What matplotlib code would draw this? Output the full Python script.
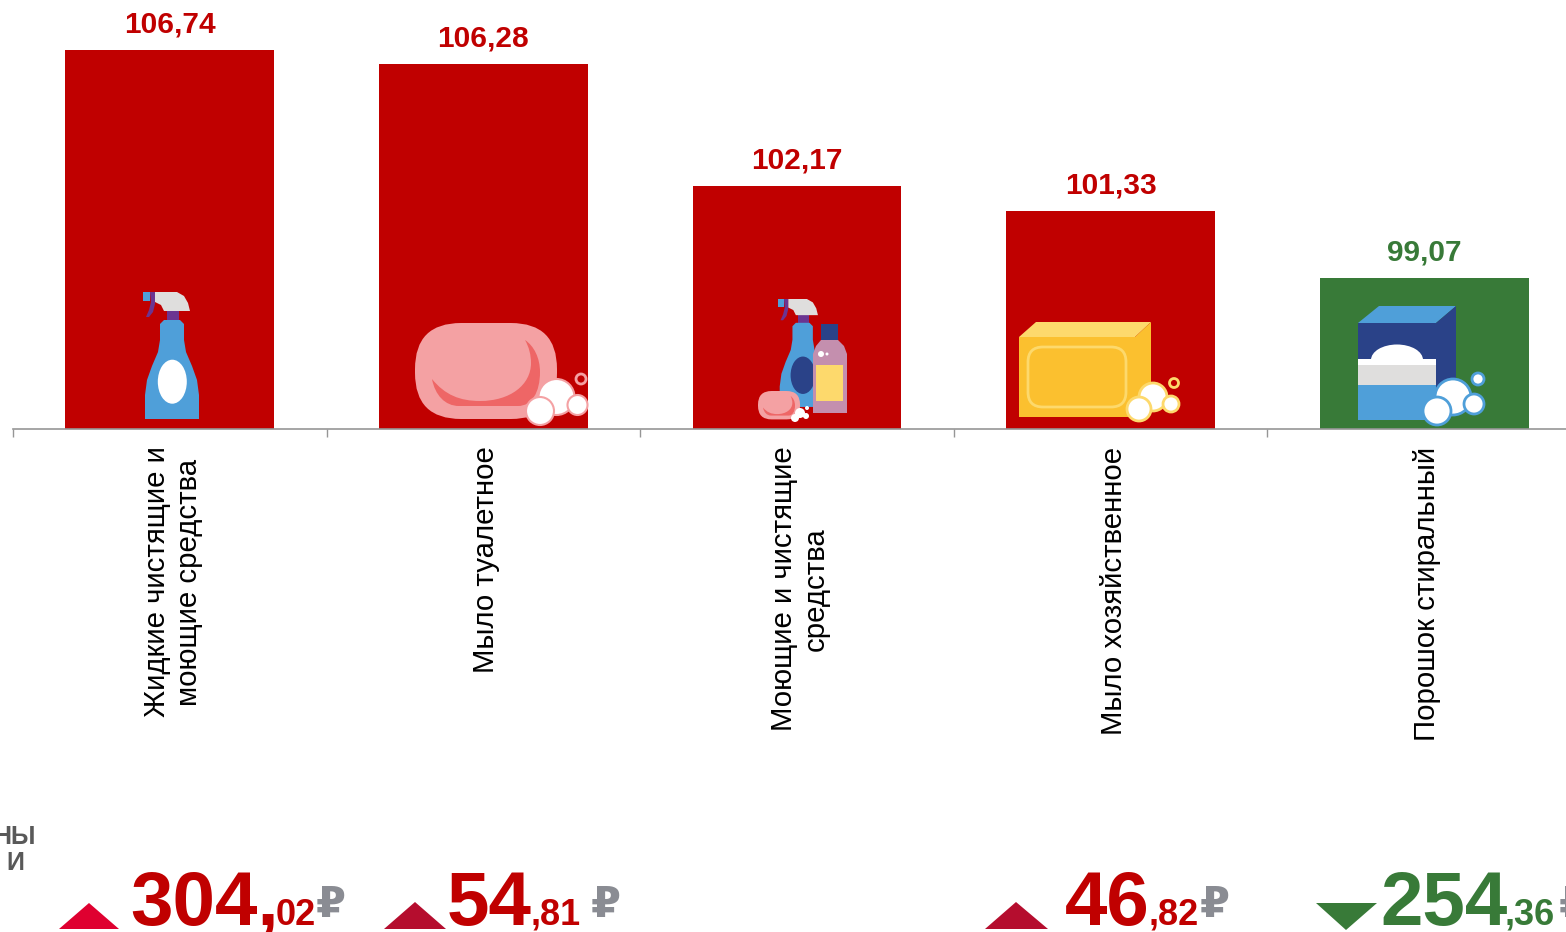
import matplotlib
matplotlib.use("Agg")
import matplotlib.pyplot as plt
import numpy as np
from matplotlib.patches import Circle, Ellipse, FancyBboxPatch, PathPatch, Polygon, Rectangle
from matplotlib.path import Path
from matplotlib.transforms import ScaledTranslation

plt.rcParams['font.family'] = ['Liberation Sans', 'DejaVu Sans']

categories = ["Жидкие чистящие и\nмоющие средства", "Мыло туалетное", "Моющие и чистящие\nсредства", "Мыло хозяйственное", "Порошок стиральный"]
values = [106.74, 106.28, 102.17, 101.33, 99.07]
value_labels = ["106,74", "106,28", "102,17", "101,33", "99,07"]
price_whole = ["304,", "54", "46", "254"]
price_frac = ["02", ",81", ",82", ",36"]

RED = "#C00000"
GREEN = "#387A38"
BLUE = "#4F9FD9"
NAVY = "#2A4288"
PURPLE = "#6B3591"
PINK = "#F4A1A3"
DARKPINK = "#EE6666"
YELLOW = "#FBC02F"
LIGHTYELLOW = "#FDD96C"
GRAY = "#DFDEDD"


def poly(ax, pts, color):
    ax.add_patch(Polygon(pts, closed=True, fc=color, ec="none"))


def bubbles(ax, items, edge, lw=1.5):
    for x, y, r in items:
        ax.add_patch(Circle((x, y), r, fc="white", ec=edge, lw=lw))


def spray(ax, ox, oy, s, label_color):
    t = lambda pts: [(ox + (x - 143) * s, oy + (y - 292) * s) for x, y in pts]
    poly(ax, t([(167, 311), (179, 311), (179, 321), (167, 321)]), PURPLE)
    poly(ax, t([(164, 320), (180, 320), (184, 324), (184, 340), (186, 352), (192, 366), (197, 380),
                (199, 395), (199, 419), (145, 419), (145, 395), (147, 380), (152, 366), (158, 352),
                (160, 340), (160, 324)]), BLUE)
    poly(ax, t([(155, 292), (177, 292), (184, 296), (188, 303), (190, 311), (164, 311), (161, 305), (155, 302)]), GRAY)
    poly(ax, t([(143, 292), (150, 292), (150, 301), (143, 301)]), BLUE)
    poly(ax, t([(150, 292), (155, 292), (155, 304), (153, 312), (149, 317), (146, 317), (149, 310), (151, 302)]), PURPLE)
    ax.add_patch(Ellipse((ox + 29.3 * s, oy + 89.7 * s), 29 * s, 44 * s, fc=label_color, ec="none"))


def soap(ax, ox, oy, s):
    t = lambda pts: [(ox + (x - 415) * s, oy + (y - 323) * s) for x, y in pts]
    ax.add_patch(FancyBboxPatch((ox + 46 * s, oy + 46 * s), 50 * s, 4 * s,
                                boxstyle="round,pad=%f,rounding_size=%f" % (46 * s, 46 * s), fc=PINK, ec="none"))
    verts = [(525, 340), (534, 346), (540, 358), (540, 372), (540, 392), (532, 406), (518, 406), (459, 406),
             (445, 406), (435, 395), (432, 379), (445, 395), (460, 401), (480, 401), (510, 401), (531, 385),
             (531, 363), (531, 355), (529, 347), (525, 340), (525, 340)]
    codes = [Path.MOVETO] + [Path.CURVE4] * 6 + [Path.LINETO] + [Path.CURVE4] * 12 + [Path.CLOSEPOLY]
    ax.add_patch(PathPatch(Path(t(verts), codes), fc=DARKPINK, ec="none"))


def drawIcons(ax):
    # бутылка с распылителем
    spray(ax, 143, 292, 1, "white")

    # мыло туалетное
    soap(ax, 415, 323, 1)
    bubbles(ax, [(556.5, 397, 18), (540, 411, 14), (577.5, 405, 10)], PINK)
    ax.add_patch(Circle((581, 379), 5, fc="none", ec=PINK, lw=2))

    # набор средств
    spray(ax, 778, 299, 0.85, NAVY)
    poly(ax, [(821, 324), (838, 324), (838, 341), (821, 341)], NAVY)
    poly(ax, [(821, 340), (838, 340), (844, 346), (847, 354), (847, 413), (813, 413), (813, 354), (816, 346)], "#C48FAE")
    poly(ax, [(816, 365), (843, 365), (843, 401), (816, 401)], LIGHTYELLOW)
    bubbles(ax, [(821, 354, 3), (827, 354, 1.5)], "white", 0)
    soap(ax, 758, 391, 0.296)
    bubbles(ax, [(800, 413, 5), (795, 418, 4), (806, 416, 3), (807, 408, 2)], "white", 0)

    # мыло хозяйственное
    poly(ax, [(1019, 337), (1036, 322), (1151, 322), (1135, 337)], LIGHTYELLOW)
    poly(ax, [(1135, 337), (1151, 322), (1151, 400), (1135, 417)], YELLOW)
    ax.add_patch(Rectangle((1019, 337), 116, 80, fc=YELLOW, ec="none"))
    ax.add_patch(FancyBboxPatch((1043, 362), 68, 30, boxstyle="round,pad=15,rounding_size=15",
                                fc="none", ec=LIGHTYELLOW, lw=2))
    bubbles(ax, [(1153, 397, 14), (1139, 409, 12), (1171, 404, 8)], LIGHTYELLOW, 2)
    ax.add_patch(Circle((1174, 383), 4.5, fc="none", ec=LIGHTYELLOW, lw=2))

    # порошок
    poly(ax, [(1358, 323), (1379, 306), (1456, 306), (1436, 323)], BLUE)
    poly(ax, [(1436, 323), (1456, 306), (1456, 387), (1436, 403)], NAVY)
    ax.add_patch(Rectangle((1358, 323), 78, 36, fc=NAVY, ec="none"))
    ax.add_patch(Ellipse((1397, 360), 52, 31, fc="white", ec="none"))
    ax.add_patch(Rectangle((1358, 359), 78, 6, fc="white", ec="none"))
    ax.add_patch(Rectangle((1358, 365), 78, 20, fc=GRAY, ec="none"))
    ax.add_patch(Rectangle((1358, 385), 78, 35, fc=BLUE, ec="none"))
    bubbles(ax, [(1453, 397, 18), (1437, 411, 14), (1474, 404, 10), (1478, 379, 6)], BLUE, 2)


def drawBottom(ax):
    ax.text(36, 844, "НЫ", fontsize=18, fontweight="bold", color="#595959", ha="right", va="baseline")
    ax.text(24, 870, "И", fontsize=18, fontweight="bold", color="#595959", ha="right", va="baseline")

    poly(ax, [(59, 929), (89, 903), (119, 929)], "#DF0030")
    poly(ax, [(384, 929), (415, 902), (446, 929)], "#B50D2E")
    poly(ax, [(985, 929), (1016, 902), (1048, 929)], "#B50D2E")
    poly(ax, [(1316, 903), (1377, 903), (1346, 930)], GREEN)

    whole_x = [130, 447, 1065, 1380]
    frac_x = [276, 531, 1149, 1505]
    rub_x = [316, 591, 1200, 1559]
    colors = [RED, RED, RED, GREEN]
    for i in range(len(price_whole)):
        ax.text(whole_x[i], 925, price_whole[i], fontsize=55, fontweight="bold", color=colors[i], va="baseline")
        ax.text(frac_x[i], 925, price_frac[i], fontsize=26, fontweight="bold", color=colors[i], va="baseline")
        ax.text(rub_x[i], 917, "₽", fontsize=31, fontweight="bold", color="#8A8C93", va="baseline")


def main():
    fig = plt.figure(figsize=(15.66, 9.32), dpi=100)
    ax = fig.add_axes([13 / 1566, 1 - 428.5 / 932, 1553 / 1566, 428.5 / 932])

    x = np.arange(len(values))
    colors = [RED if v > 100 else GREEN for v in values]
    ax.bar(x, values, width=0.666, color=colors)
    for i in x:
        ax.annotate(value_labels[i], (i, values[i]), xytext=(0, 13), textcoords="offset points",
                    ha="center", va="baseline", fontsize=21.5, fontweight="bold", color=colors[i])

    ax.set_xlim(-0.5, 4.452)
    ax.set_ylim(94.025, 108.436)
    ax.set_yticks([])
    ax.set_xticks(x)
    ax.set_xticklabels(categories, rotation=90, ha="center", va="top", multialignment="center", fontsize=21.2)
    ax.set_xticks(x - 0.5, minor=True)
    ax.tick_params(axis="x", which="major", length=0, pad=13)
    ax.tick_params(axis="x", which="minor", length=6, width=1, color="#969696")
    shift = ScaledTranslation(3 / 100, 0, fig.dpi_scale_trans)
    for lab in ax.get_xticklabels():
        lab.set_transform(lab.get_transform() + shift)
    for s in ["top", "left", "right"]:
        ax.spines[s].set_visible(False)
    ax.spines["bottom"].set_color("#969696")
    ax.spines["bottom"].set_linewidth(1.2)
    ax.patch.set_alpha(0)

    over = fig.add_axes([0, 0, 1, 1])
    over.set_xlim(0, 1566)
    over.set_ylim(932, 0)
    over.axis("off")
    drawIcons(over)
    drawBottom(over)

    fig.savefig("out.png", dpi=100)


if __name__ == "__main__":
    main()
